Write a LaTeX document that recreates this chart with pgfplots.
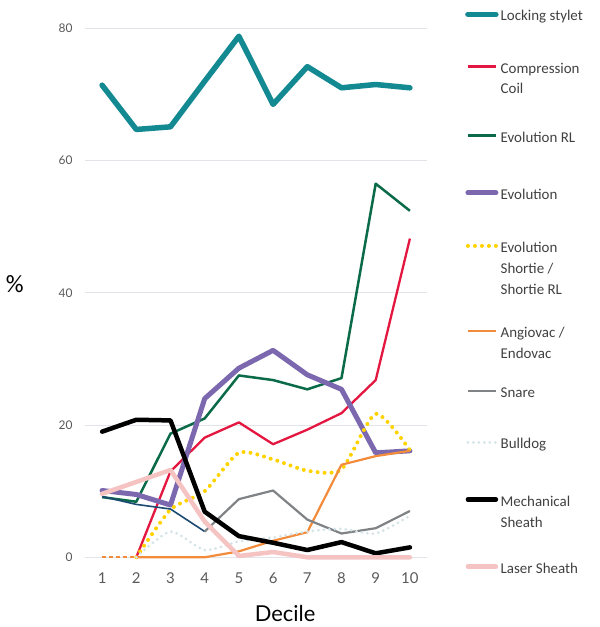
\documentclass[border=0pt]{standalone}
\usepackage{pgfplots}
\pgfplotsset{compat=1.18}
\usepackage{fontspec}
\setmainfont{Carlito}
\newfontfamily\latofont{Lato}
\definecolor{cLock}{HTML}{138A91}
\definecolor{cComp}{HTML}{E3173F}
\definecolor{cEvoRL}{HTML}{0B6A48}
\definecolor{cEvo}{HTML}{7B68AE}
\definecolor{cShort}{HTML}{FFD200}
\definecolor{cAngio}{HTML}{F28C3C}
\definecolor{cSnare}{HTML}{7F8385}
\definecolor{cBull}{HTML}{D3E3E8}
\definecolor{cMech}{HTML}{000000}
\definecolor{cLaser}{HTML}{F6C3C3}
\definecolor{cNavy}{HTML}{1B4A72}
\definecolor{cGrid}{HTML}{E3E3EA}
\definecolor{cTick}{HTML}{595959}
\definecolor{cLeg}{HTML}{404040}
\newcommand{\leg}[2]{\begin{tabular}[b]{@{}l@{}}\rule{0pt}{\dimexpr 14.7bp+#1bp\relax}#2\end{tabular}}
\pgfplotsset{
  two lines/.style={legend image code/.code={\draw[##1] (0bp,27.5bp) -- (28bp,27.5bp);}},
  three lines/.style={legend image code/.code={\draw[##1] (0bp,48.5bp) -- (28bp,48.5bp);}},
}
\begin{document}
\begin{tikzpicture}
\begin{axis}[
  at={(85bp,69.7bp)}, anchor=south west,
  scale only axis, width=342bp, height=529bp,
  xmin=0.5, xmax=10.5, ymin=0, ymax=80,
  xtick={1,...,10}, ytick={0,20,40,60,80},
  axis line style={draw=none}, major tick length=0pt,
  ymajorgrids, grid style={color=cGrid, line width=0.8bp},
  clip=false,
  /pgf/number format/assume math mode=true,
  xticklabel style={font=\latofont\fontsize{15}{18}\selectfont, text=cTick, yshift=-12bp},
  yticklabel style={font=\latofont\fontsize{12}{14}\selectfont, text=cTick, anchor=east, xshift=-9bp},
  xlabel={Decile},
  xlabel style={font=\latofont\fontsize{22}{26}\selectfont, at={(axis description cs:0.585,0)}, anchor=base, yshift=-64bp},
  ylabel={\%},
  ylabel style={font=\fontsize{25}{28}\selectfont, at={(axis description cs:-0.205,0.517)}, anchor=center, rotate=-90},
  legend style={at={(axis description cs:1.111,1.0422)}, anchor=north west, draw=none, fill=none,
    inner sep=0pt, row sep=23bp, column sep=2bp,
    cells={anchor=base west},
    nodes={inner sep=0pt, text=cLeg, font=\fontsize{15}{21}\selectfont}},
  legend image code/.code={\draw[#1] (0bp,6.5bp) -- (28bp,6.5bp);},
]
\addplot[cLock, line width=5.5bp, line cap=round, line join=round] coordinates {(1,71.4)(2,64.7)(3,65.1)(4,72.0)(5,78.8)(6,68.5)(7,74.2)(8,71.0)(9,71.5)(10,71.0)};
\addlegendentry{\leg{0}{Locking stylet}}
\addplot[cComp, line width=2.3bp, line join=round, two lines] coordinates {(2,0)(3,13)(4,18.1)(5,20.4)(6,17.1)(7,19.3)(8,21.8)(9,26.8)(10,48.2)};
\addlegendentry{\leg{13}{Compression\\Coil}}
\addplot[cEvoRL, line width=2.5bp, line join=round] coordinates {(1,9.1)(2,8.4)(3,18.7)(4,21.0)(5,27.5)(6,26.8)(7,25.4)(8,27.1)(9,56.5)(10,52.4)};
\addlegendentry{\leg{9}{Evolution RL}}
\addplot[cEvo, line width=5bp, line cap=round, line join=round] coordinates {(1,10.1)(2,9.5)(3,7.9)(4,24.0)(5,28.6)(6,31.3)(7,27.6)(8,25.4)(9,15.8)(10,16.1)};
\addlegendentry{\leg{18}{Evolution}}
\addplot[cShort, line width=4bp, line cap=round, dash pattern=on 0bp off 7bp, smooth, tension=0.4, three lines] coordinates {(2,0)(3,7.2)(4,10.0)(5,15.8)(6,14.8)(7,13.1)(8,13.3)(9,21.7)(10,16.2)};
\addlegendentry{\leg{14}{Evolution\\Shortie /\\Shortie RL}}
\addplot[cAngio, line width=2.2bp, line join=round, two lines] coordinates {(2,0)(3,0)(4,0)(5,0.9)(6,2.5)(7,3.8)(8,14.0)(9,15.3)(10,16.1)};
\addlegendentry{\leg{4}{Angiovac /\\Endovac}}
\addplot[cAngio, line width=2.2bp, dash pattern=on 4bp off 3bp, forget plot] coordinates {(1,0)(2,0)};
\addplot[cNavy, line width=1.6bp, line join=round, forget plot] coordinates {(1,9.2)(2,8.0)(3,7.3)(4,3.9)};
\addplot[cSnare, line width=2.2bp, line join=round] coordinates {(4,3.9)(5,8.8)(6,10.1)(7,5.7)(8,3.6)(9,4.4)(10,7.0)};
\addlegendentry{\leg{0}{Snare}}
\addplot[cBull, line width=3bp, line cap=round, dash pattern=on 0bp off 5.5bp, smooth, tension=0.4] coordinates {(2,0)(3,3.9)(4,1.1)(5,2.4)(6,3.0)(7,3.9)(8,4.3)(9,3.6)(10,6.3)};
\addlegendentry{\leg{12}{Bulldog}}
\addplot[cMech, line width=4.5bp, line cap=round, line join=round, two lines] coordinates {(1,19.0)(2,20.8)(3,20.7)(4,6.9)(5,3.2)(6,2.2)(7,1.1)(8,2.3)(9,0.6)(10,1.5)};
\addlegendentry{\leg{18}{Mechanical\\Sheath}}
\addplot[cLaser, line width=4.5bp, line cap=round, line join=round] coordinates {(1,9.6)(2,11.4)(3,13.2)(4,5.4)(5,0.2)(6,0.8)(7,0)(8,0)(9,0)(10,0)};
\addlegendentry{\leg{7}{Laser Sheath}}
\end{axis}
\pgfresetboundingbox
\path[use as bounding box] (0,0) rectangle (600bp,627bp);
\end{tikzpicture}
\end{document}
